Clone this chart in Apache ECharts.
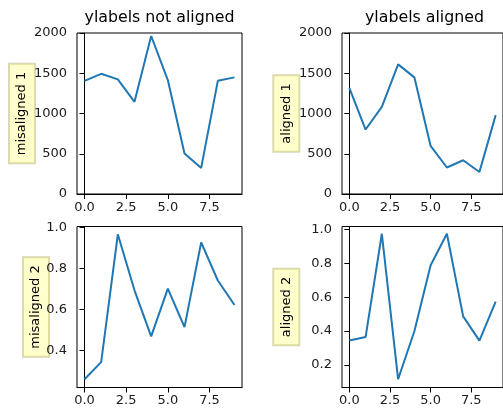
<!DOCTYPE html>
<html><head><meta charset="utf-8">
<script src="https://cdn.jsdelivr.net/npm/echarts@6/dist/echarts.min.js"></script>
<style>html,body{margin:0;padding:0;background:#fff}#c{width:503px;height:408px}</style>
</head><body><div id="c"></div>
<script>
const xs = [0,1,2,3,4,5,6,7,8,9];
const misaligned1 = [1406,1493,1424,1145,1963,1415,503,324,1406,1449];
const aligned1 = [1319,801,1083,1610,1449,597,329,419,274,980];
const misaligned2 = [0.259,0.343,0.968,0.694,0.469,0.702,0.514,0.928,0.742,0.622];
const aligned2 = [0.345,0.365,0.975,0.116,0.399,0.789,0.975,0.487,0.344,0.574];
const xTicks = [0,2.5,5,7.5];
const yTicksTop = [0,500,1000,1500,2000];
const yTicksBL = [0.4,0.6,0.8,1.0];
const yTicksBR = [0.2,0.4,0.6,0.8,1.0];
const titles = ['ylabels not aligned','ylabels aligned'];
const yNames = ['misaligned 1','aligned 1','misaligned 2','aligned 2'];

const FONT = 'DejaVu Sans';
const grids = [
  {left:77, top:33, width:165, height:161},
  {left:342, top:33, width:165, height:161},
  {left:77, top:226.5, width:165, height:161},
  {left:342, top:226.5, width:165, height:161}
];
const yLims = [[0,2000],[0,2000],[0.219,1.006],[0.067,1.018]];
const yTickSets = [yTicksTop,yTicksTop,yTicksBL,yTicksBR];
const nameGaps = [42,42.7,28,42.7];
const datas = [misaligned1,aligned1,misaligned2,aligned2];

const axisCommon = {
  axisLine:{show:true,lineStyle:{color:'#000',width:1}},
  axisTick:{show:true,length:5,lineStyle:{color:'#000',width:1}},
  splitLine:{show:false}
};
const labelStyle = {color:'#1a1a1a',fontFamily:FONT,fontSize:13};

const option = {
  animation:false,
  title: titles.map((t,i)=>({text:t,left:grids[i].left+82.5,top:10,textAlign:'center',padding:0,
    textStyle:{fontFamily:FONT,fontSize:15.8,fontWeight:'normal',color:'#000'}})),
  grid: grids.map(g=>Object.assign({show:true,borderColor:'#000',borderWidth:1,containLabel:false},g)),
  xAxis: grids.map((g,i)=>Object.assign({},axisCommon,{
    type:'value',gridIndex:i,min:-0.45,max:9.45,
    axisTick:Object.assign({},axisCommon.axisTick,{customValues:xTicks}),
    axisLabel:Object.assign({},labelStyle,{margin:7,customValues:xTicks,formatter:v=>v.toFixed(1)})
  })),
  yAxis: grids.map((g,i)=>Object.assign({},axisCommon,{
    type:'value',gridIndex:i,min:yLims[i][0],max:yLims[i][1],
    axisTick:Object.assign({},axisCommon.axisTick,{customValues:yTickSets[i]}),
    axisLabel:Object.assign({},labelStyle,{margin:10,customValues:yTickSets[i],
      formatter:v=> (i<2? String(Math.round(v)) : v.toFixed(1))}),
    name:yNames[i],nameLocation:'middle',nameRotate:90,nameGap:nameGaps[i],nameMoveOverlap:false,
    nameTextStyle:{fontFamily:FONT,fontSize:13,color:'#000',backgroundColor:'rgba(255,255,0,0.2)',
      borderColor:'rgba(140,140,60,0.35)',borderWidth:1,padding:[6,8],lineHeight:14}
  })),
  series: datas.map((d,i)=>({type:'line',xAxisIndex:i,yAxisIndex:i,showSymbol:false,
    lineStyle:{color:'#1f77b4',width:2},data:xs.map((x,j)=>[x,d[j]])}))
};
echarts.init(document.getElementById('c')).setOption(option);
</script></body></html>
